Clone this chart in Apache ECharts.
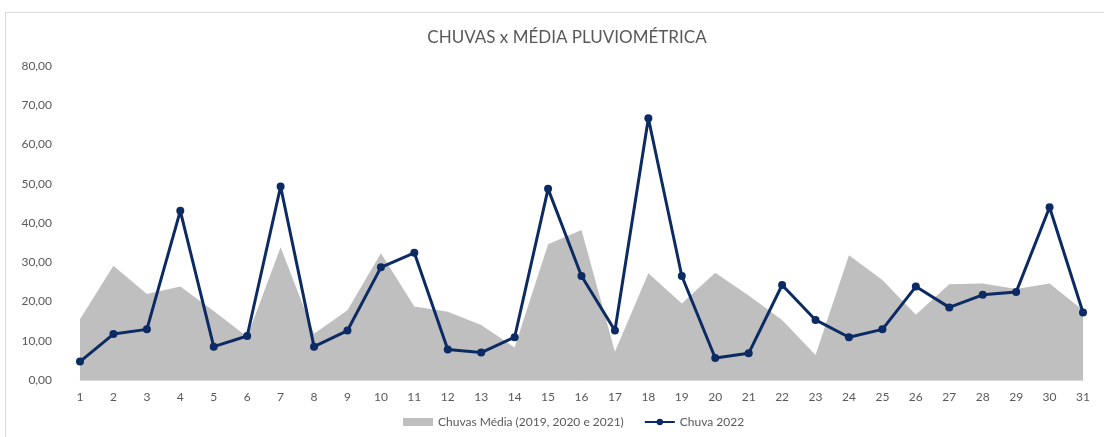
<!DOCTYPE html>
<html>
<head>
<meta charset="utf-8">
<script src="https://cdn.jsdelivr.net/npm/echarts@6/dist/echarts.min.js"></script>
<style>
  html, body { margin: 0; padding: 0; background: #fff; overflow: hidden; }
  #frame { position: absolute; left: 5px; top: 12px; width: 1200px; height: 500px; border: 1px solid #d9d9d9; }
  #chart { position: absolute; left: 0; top: 0; width: 1104px; height: 437px; }
</style>
</head>
<body>
<div id="frame"></div>
<div id="chart"></div>
<script>
const days = ['1','2','3','4','5','6','7','8','9','10','11','12','13','14','15','16','17','18','19','20','21','22','23','24','25','26','27','28','29','30','31'];
const mediaChuvas = [15.5, 29.1, 21.9, 23.8, 17.6, 11.0, 33.8, 11.8, 17.8, 32.3, 18.7, 17.4, 14.0, 8.3, 34.6, 38.2, 7.2, 27.2, 19.5, 27.3, 21.5, 15.3, 6.4, 31.8, 25.5, 16.6, 24.4, 24.6, 23.2, 24.6, 17.8];
const chuva2022 = [4.7, 11.7, 12.9, 43.1, 8.5, 11.2, 49.3, 8.5, 12.6, 28.7, 32.4, 7.8, 7.0, 10.9, 48.7, 26.5, 12.6, 66.7, 26.5, 5.6, 6.8, 24.2, 15.3, 10.9, 12.9, 23.8, 18.5, 21.7, 22.4, 44.0, 17.2];
const yTicks = { min: 0, max: 80, interval: 10 };
const titleText = 'CHUVAS x MÉDIA PLUVIOMÉTRICA';
const seriesNames = ['Chuvas Média (2019, 2020 e 2021)', 'Chuva 2022'];

const chart = echarts.init(document.getElementById('chart'), null, { renderer: 'canvas' });
const fmt = v => v.toFixed(2).replace('.', ',');
chart.setOption({
  animation: false,
  textStyle: { fontFamily: 'Lato, "Open Sans", sans-serif' },
  title: {
    text: titleText,
    left: 562, top: 24, textAlign: 'center',
    textStyle: { fontSize: 17, fontWeight: 'normal', color: '#595959', fontFamily: 'Lato, sans-serif' }
  },
  legend: {
    bottom: 4, left: 398,
    itemGap: 20,
    textStyle: { fontSize: 12, color: '#595959' },
    data: [
      { name: seriesNames[0], icon: 'rect', itemStyle: { color: '#bfbfbf' } },
      { name: seriesNames[1] }
    ],
    itemWidth: 30, itemHeight: 8
  },
  grid: { left: 80, right: 21, top: 66, bottom: 57, containLabel: false },
  xAxis: {
    type: 'category',
    data: days,
    boundaryGap: false,
    axisLine: { show: true, lineStyle: { color: '#d9d9d9', width: 1 } },
    axisTick: { show: false },
    axisLabel: { color: '#595959', fontSize: 12, margin: 11 }
  },
  yAxis: {
    type: 'value',
    min: yTicks.min, max: yTicks.max, interval: yTicks.interval,
    axisLine: { show: false },
    axisTick: { show: false },
    splitLine: { show: false },
    axisLabel: { color: '#595959', fontSize: 12, margin: 28, formatter: fmt }
  },
  series: [
    {
      name: seriesNames[0], type: 'line', data: mediaChuvas,
      showSymbol: false, symbol: 'none',
      lineStyle: { width: 0 },
      itemStyle: { color: '#bfbfbf' },
      areaStyle: { color: '#bfbfbf', opacity: 1 },
      z: 1
    },
    {
      name: seriesNames[1], type: 'line', data: chuva2022,
      symbol: 'circle', symbolSize: 8,
      lineStyle: { color: '#0c2a63', width: 3 },
      itemStyle: { color: '#0c2a63' },
      z: 2
    }
  ]
});
</script>
</body>
</html>
